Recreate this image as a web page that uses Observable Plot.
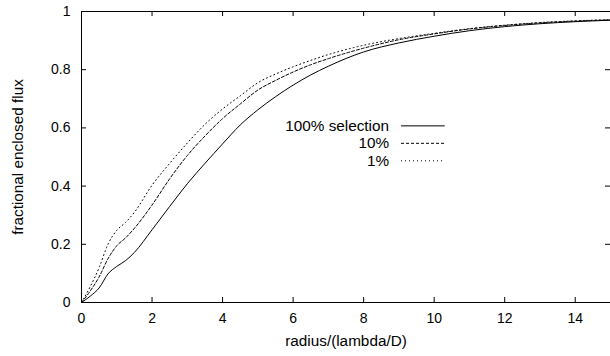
<!DOCTYPE html>
<html><head><meta charset="utf-8">
<script src="https://cdn.jsdelivr.net/npm/d3@7"></script>
<script src="https://cdn.jsdelivr.net/npm/@observablehq/plot@0.6"></script>
<style>
body{margin:0;background:#fff}
#chart svg{display:block;font-family:"Liberation Sans",Arial,Helvetica,sans-serif}
</style>
</head><body><div id="chart"></div>
<script>
// radius grid (lambda/D)
const radius = [0,0.25,0.5,0.75,1,1.25,1.5,2,2.5,3,3.5,4,4.5,5,5.5,6,6.5,7,8,9,10,11,12,13,14,15];
// fractional enclosed flux
const sel100 = [0,0.022,0.05,0.098,0.124,0.144,0.172,0.25,0.33,0.408,0.478,0.545,0.61,0.662,0.707,0.747,0.782,0.812,0.861,0.892,0.915,0.934,0.948,0.958,0.965,0.970];
const sel10  = [0,0.04,0.088,0.15,0.195,0.222,0.255,0.335,0.425,0.505,0.572,0.632,0.682,0.73,0.763,0.792,0.817,0.838,0.874,0.903,0.923,0.940,0.952,0.961,0.967,0.971];
const sel1   = [0,0.055,0.12,0.20,0.248,0.275,0.31,0.403,0.478,0.548,0.612,0.665,0.71,0.755,0.785,0.81,0.832,0.852,0.884,0.907,0.925,0.941,0.953,0.962,0.968,0.972];
const seriesNames = ["100% selection","10%","1%"];
const xTicks = [0,2,4,6,8,10,12,14];
const yTicks = [0,0.2,0.4,0.6,0.8,1];
const xLabel = "radius/(lambda/D)";
const yLabel = "fractional enclosed flux";

// layout / style
const W = 610, H = 356;
const mL = 81, mR = 0, mT = 11, mB = 54;
const plotW = W - mL - mR, plotH = H - mT - mB;
const tick = 5;
const dashes = [null, "3,2", "1,3"];
const legendTextX = 8.72, legendLineX1 = 9.06, legendLineX2 = 10.3;
const legendY = [0.607, 0.547, 0.487];
const titleSize = 15.3;

const allSeries = [sel100, sel10, sel1];
const rows = [];
allSeries.forEach((vals, s) => radius.forEach((r, i) => rows.push({r, f: vals[i], s: seriesNames[s]})));

const marks = [
  Plot.frame({stroke: "#000"}),
  // inward ticks
  Plot.tickX(xTicks, {x: d => d, insetTop: plotH - tick, stroke: "#000"}),
  Plot.tickX(xTicks, {x: d => d, insetBottom: plotH - tick, stroke: "#000"}),
  Plot.tickY(yTicks, {y: d => d, insetRight: plotW - tick, stroke: "#000"}),
  Plot.tickY(yTicks, {y: d => d, insetLeft: plotW - tick, stroke: "#000"}),
  Plot.axisX(xTicks, {tickSize: 0, tickPadding: 11, fontSize: 14, fill: "#000", label: null}),
  Plot.axisY(yTicks, {tickSize: 0, tickPadding: 11, fontSize: 14, fill: "#000", label: null, tickFormat: d => String(d)}),
  Plot.text([xLabel], {frameAnchor: "bottom", lineAnchor: "middle", textAnchor: "middle", dy: 39, fontSize: titleSize, fill: "#000"}),
  Plot.text([yLabel], {frameAnchor: "left", textAnchor: "middle", lineAnchor: "middle", dx: -63, rotate: -90, fontSize: titleSize, fill: "#000"})
];
seriesNames.forEach((name, s) => {
  marks.push(Plot.line(rows.filter(d => d.s === name), {x: "r", y: "f", stroke: "#000", strokeWidth: 1, strokeDasharray: dashes[s], curve: "monotone-x"}));
  marks.push(Plot.text([name], {x: legendTextX, y: legendY[s], textAnchor: "end", fontSize: titleSize, fill: "#000"}));
  marks.push(Plot.link([name], {x1: legendLineX1, x2: legendLineX2, y1: legendY[s], y2: legendY[s], stroke: "#000", strokeWidth: 1, strokeDasharray: dashes[s]}));
});

const chart = Plot.plot({
  width: W, height: H,
  marginLeft: mL, marginRight: mR, marginTop: mT, marginBottom: mB,
  x: {domain: [0, 15]},
  y: {domain: [0, 1]},
  style: {fontFamily: '"Liberation Sans",Arial,Helvetica,sans-serif', background: "#fff"},
  marks
});
document.getElementById("chart").appendChild(chart);
</script>
</body></html>
